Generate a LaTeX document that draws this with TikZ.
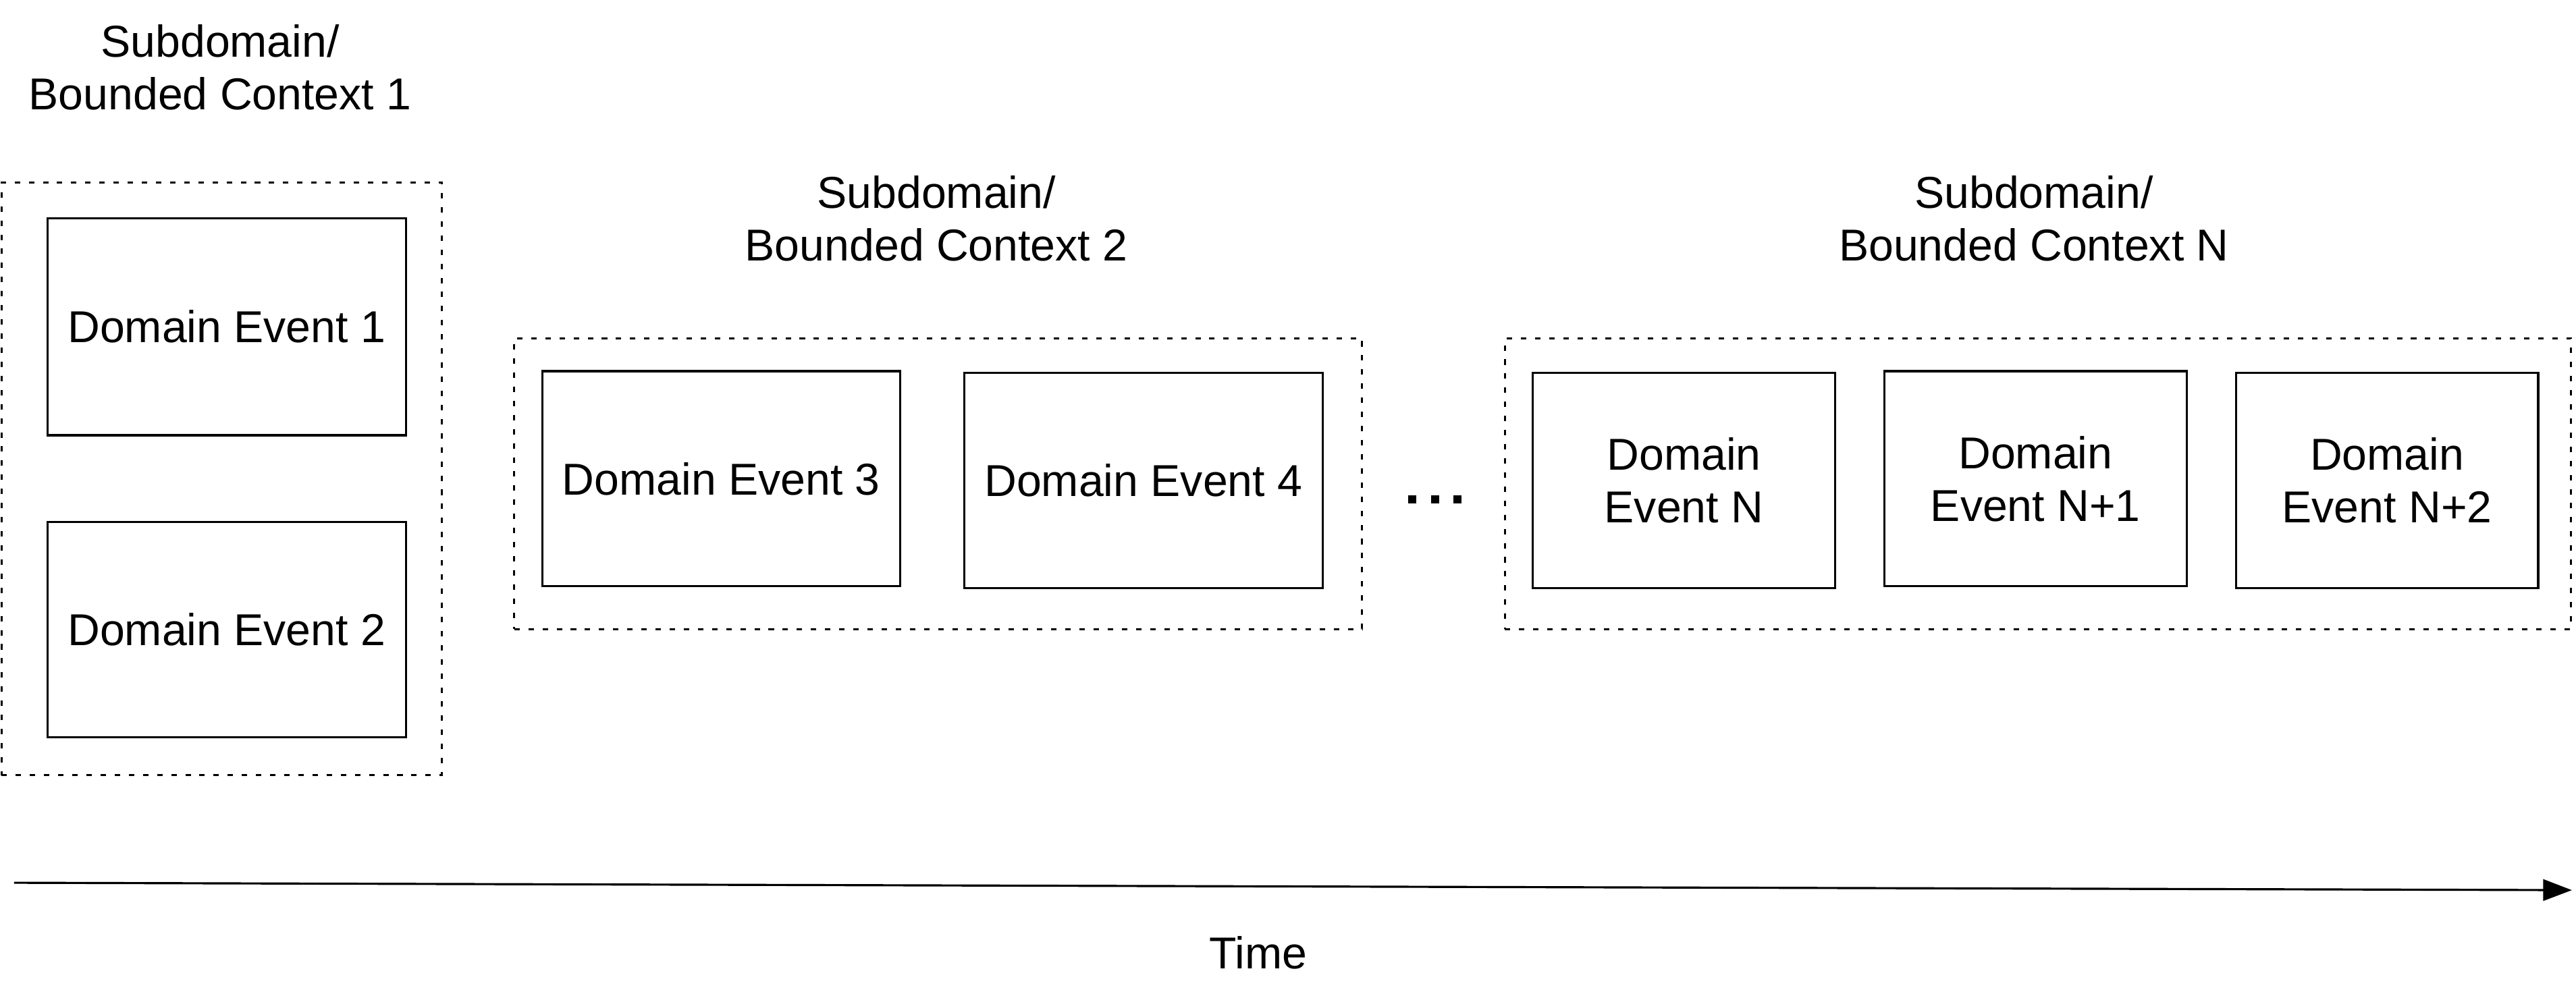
\documentclass[tikz,border=0pt]{standalone}
\usepackage{fontspec}
\setmainfont{Liberation Sans}
\usetikzlibrary{arrows.meta}
\begin{document}
\begin{tikzpicture}[x=1pt,y=-1pt,
  txt/.style={font=\fontsize{27.2}{32}\selectfont, align=center, inner sep=0pt},
  evbox/.style={draw=black, line width=1.3pt, inner sep=0pt, font=\fontsize{27.2}{32}\selectfont, align=center},
  ctx/.style={draw=black, line width=1.3pt, dash pattern=on 3.3pt off 5.3pt, inner sep=0pt},
  dotsq/.style={fill=black, minimum size=5pt, inner sep=0pt}
]
\useasboundingbox (0,0) rectangle (1568,604);
% containers
\node[ctx, minimum width=268pt, minimum height=361pt] (c1) at (135,291.5) {};
\node[ctx, minimum width=516pt, minimum height=177pt] (c2) at (571,294.5) {};
\node[ctx, minimum width=649pt, minimum height=177pt] (cn) at (1240.5,294.5) {};
% titles
\node[txt] (t1) at (134,41) {Subdomain/\\Bounded Context 1};
\node[txt] (t2) at (570,133) {Subdomain/\\Bounded Context 2};
\node[txt] (tn) at (1238,133) {Subdomain/\\Bounded Context N};
% events
\node[evbox, minimum width=218pt, minimum height=132pt] (e1) at (138,199) {Domain Event 1};
\node[evbox, minimum width=218pt, minimum height=131pt] (e2) at (138,383.5) {Domain Event 2};
\node[evbox, minimum width=218pt, minimum height=131pt] (e3) at (439,291.5) {Domain Event 3};
\node[evbox, minimum width=218pt, minimum height=131pt] (e4) at (696,292.5) {Domain Event 4};
\node[evbox, minimum width=184pt, minimum height=131pt] (en) at (1025,292.5) {Domain\\Event N};
\node[evbox, minimum width=184pt, minimum height=131pt] (en1) at (1239,291.5) {Domain\\Event N+1};
\node[evbox, minimum width=184pt, minimum height=131pt] (en2) at (1453,292.5) {Domain\\Event N+2};
% dots
\node[dotsq] (d1) at (859.6,304) {};
\node[dotsq] (d2) at (873.4,304) {};
\node[dotsq] (d3) at (887.2,304) {};
% time arrow
\coordinate (ts) at (8.6,537.5);
\coordinate (te) at (1565.5,542);
\draw[line width=1.3pt, -{Triangle[length=17.5pt,width=13pt]}] (ts) -- (te);
\node[txt] (time) at (766,580) {Time};
\end{tikzpicture}
\end{document}
